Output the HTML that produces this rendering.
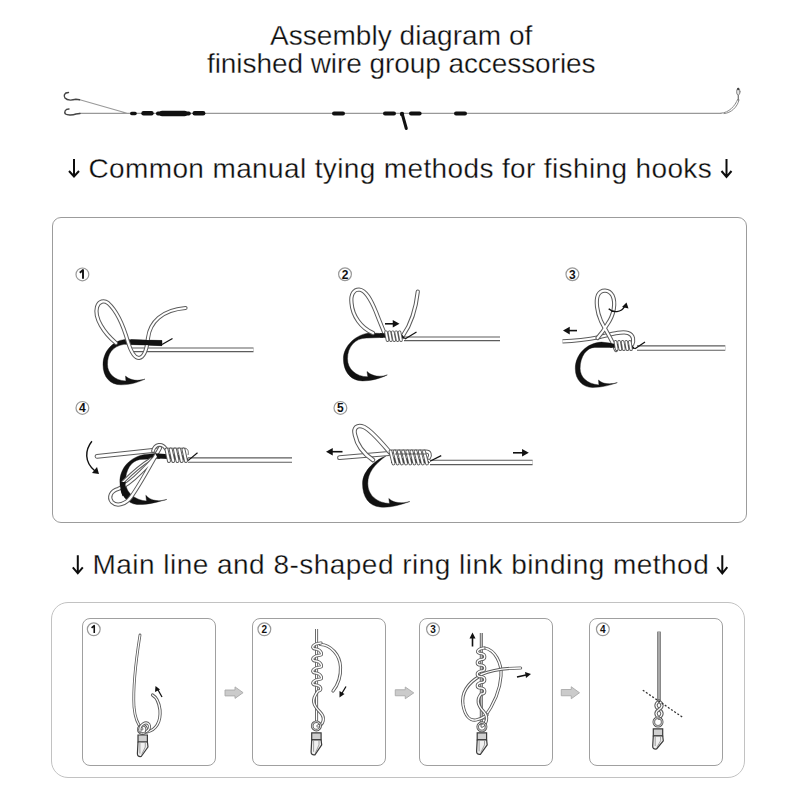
<!DOCTYPE html>
<html><head><meta charset="utf-8">
<style>
html,body{margin:0;padding:0;background:#fff;width:800px;height:800px;overflow:hidden;}
body{position:relative;font-family:"Liberation Sans",sans-serif;color:#0d0d0d;}
.t{position:absolute;white-space:nowrap;line-height:1;font-size:28px;-webkit-text-stroke:0.3px #fff;}
.box{position:absolute;box-sizing:border-box;}
svg{position:absolute;left:0;top:0;}
</style></head><body>
<div class="t" style="left:270px;top:22px;letter-spacing:0.05px;">Assembly diagram of</div>
<div class="t" style="left:207px;top:50px;letter-spacing:-0.07px;">finished wire group accessories</div>
<div class="t" style="left:88.5px;top:155px;letter-spacing:0.37px;">Common manual tying methods for fishing hooks</div>
<div class="t" style="left:92.5px;top:551px;letter-spacing:0.47px;">Main line and 8-shaped ring link binding method</div>
<div class="box" style="left:52px;top:217px;width:695px;height:306px;border:1.5px solid #9c9c9c;border-radius:9px;"></div>
<div class="box" style="left:51px;top:602px;width:694px;height:176px;border:1.5px solid #c2c2c2;border-radius:17px;"></div>
<div class="box" style="left:82px;top:618px;width:134px;height:148px;border:1.5px solid #a0a0a0;border-radius:8px;"></div>
<div class="box" style="left:252px;top:618px;width:134px;height:148px;border:1.5px solid #a0a0a0;border-radius:8px;"></div>
<div class="box" style="left:419px;top:618px;width:134px;height:148px;border:1.5px solid #a0a0a0;border-radius:8px;"></div>
<div class="box" style="left:589px;top:618px;width:134px;height:148px;border:1.5px solid #a0a0a0;border-radius:8px;"></div>
<svg width="800" height="800" viewBox="0 0 800 800">
<g fill="none" stroke-linecap="round">
<path d="M79 99.5L128 113.5M79.5 113.3H721" stroke="#999" stroke-width="1.2"/>
<path d="M721 113.2C729 112.8 735 106 737.6 99.5" stroke="#8a8a8a" stroke-width="1"/>
<path d="M724 113.6C731 113.2 737.5 107 739 100" stroke="#8a8a8a" stroke-width="1"/>
<path d="M738.3 100V95" stroke="#777" stroke-width="1.3"/>
<ellipse cx="738.3" cy="91.8" rx="1.7" ry="3.3" stroke="#888" stroke-width="1" fill="#e4e4e4"/>
<circle cx="738.2" cy="89" r="1.2" fill="#444" stroke="none"/>
<path d="M68.5 92.5C64 92.5 63.5 96 65 98C67 100.5 72 100.3 76 99.3L79.5 99.8" stroke="#444" stroke-width="1.4"/>
<path d="M69 109C65 109 64 112 65.5 114C67.5 115.5 73 115 76 114L80 113.5" stroke="#444" stroke-width="1.4"/>
</g>
<g fill="#111">
<rect x="130" y="111.8" width="6.8" height="3.4" rx="1.7"/>
<rect x="141.3" y="111" width="12.4" height="4.4" rx="2.2"/>
<rect x="156" y="111.6" width="34.8" height="3.8" rx="1.9"/>
<rect x="159.3" y="110.7" width="28" height="5.6" rx="2.8"/>
<rect x="192.5" y="111" width="12.9" height="4.4" rx="2.2"/>
<rect x="332" y="111.4" width="13" height="4" rx="2"/>
<rect x="383" y="111.4" width="13" height="4" rx="2"/>
<rect x="409" y="111.4" width="12.6" height="4" rx="2"/>
<rect x="454" y="111.4" width="13" height="4" rx="2"/>
<circle cx="402" cy="114" r="2.2"/>
</g>
<path d="M402.5 115L406.3 128.5" stroke="#111" stroke-width="3" stroke-linecap="round"/>
<g fill="none" stroke="#0d0d0d" stroke-width="2">
<path d="M74 159V176.5M69 171L74 176.5L79 171"/>
<path d="M726.5 159V177M721.5 171L726.5 177L731.5 171"/>
<path d="M77.8 555.3V573.3M72.8 567.3L77.8 573.3L82.8 567.3"/>
<path d="M722.3 555.3V573.5M717.3 567.2L722.3 573.5L727.3 567.2"/>
</g>
<circle cx="82.4" cy="274.4" r="6.4" fill="#fff" stroke="#999" stroke-width="1.2"/><path d="M79.80000000000001 272.79999999999995L83.0 270.08V278.71999999999997" fill="none" stroke="#111" stroke-width="1.8999999999999997" stroke-linejoin="round"/>
<circle cx="345" cy="274.25" r="6.4" fill="#fff" stroke="#999" stroke-width="1.2"/><text x="345" y="278.55" font-size="12" font-weight="bold" text-anchor="middle" fill="#111" font-family="Liberation Sans">2</text>
<circle cx="572.4" cy="274.25" r="6.4" fill="#fff" stroke="#999" stroke-width="1.2"/><text x="572.4" y="278.55" font-size="12" font-weight="bold" text-anchor="middle" fill="#111" font-family="Liberation Sans">3</text>
<circle cx="82.4" cy="407.9" r="6.4" fill="#fff" stroke="#999" stroke-width="1.2"/><text x="82.4" y="412.2" font-size="12" font-weight="bold" text-anchor="middle" fill="#111" font-family="Liberation Sans">4</text>
<circle cx="340.4" cy="407.9" r="6.4" fill="#fff" stroke="#999" stroke-width="1.2"/><text x="340.4" y="412.2" font-size="12" font-weight="bold" text-anchor="middle" fill="#111" font-family="Liberation Sans">5</text>
<path d="M132 349.8H253.5" fill="none" stroke="#5c5c5c" stroke-width="4.8" stroke-linecap="butt" stroke-linejoin="round"/><path d="M132 349.8H253.5" fill="none" stroke="#fff" stroke-width="2.4" stroke-linecap="butt" stroke-linejoin="round"/>
<path d="M162 340.5L124.8 339.4C112 341 103 352 103 364.5C103 377 110 384.8 121 384.8C131 384.8 139 382 145 379.1C139 381 131 381 125.5 376.1L125.9 381C114 380.5 107.5 373 107.5 364.5C107.5 354 112 346.5 124 344.3L162 345.7Z" fill="#111" stroke="#111" stroke-width="0.4" stroke-linejoin="round"/>
<path d="M172.5 338.5L162 344.5" stroke="#111" stroke-width="1.2" fill="none"/>
<path d="M116 343C104 333 94 318 97 307C99 301 104 300 108 303C117 311 124 328 128 342C131 352 135 358 139 358C145 357 147 348 148 338C150 322 162 310 185.5 308" fill="none" stroke="#5c5c5c" stroke-width="4.2" stroke-linecap="round" stroke-linejoin="round"/><path d="M116 343C104 333 94 318 97 307C99 301 104 300 108 303C117 311 124 328 128 342C131 352 135 358 139 358C145 357 147 348 148 338C150 322 162 310 185.5 308" fill="none" stroke="#fff" stroke-width="2.2" stroke-linecap="round" stroke-linejoin="round"/>
<path d="M131 339.6L162 340.5L162 345.7L131 344.5Z" fill="#111"/>
<path d="M404 338.8H500" fill="none" stroke="#5c5c5c" stroke-width="4.8" stroke-linecap="butt" stroke-linejoin="round"/><path d="M404 338.8H500" fill="none" stroke="#fff" stroke-width="2.4" stroke-linecap="butt" stroke-linejoin="round"/>
<path d="M383 333.6L370 332.9C356 334 343.4 346 343.4 358.75C343.4 372 351 380.9 362.5 380.9C372 380.9 381 378 387.3 374.9C381 377 373 377 367 371.5L367.8 376.8C356 376.8 347.5 369 347.5 358.75C347.5 347 355 338.1 366.3 338.1L383 337.4Z" fill="#111" stroke="#111" stroke-width="0.4" stroke-linejoin="round"/>
<path d="M373 333C361 328 352.5 316 351.5 303C350.5 294 354 289.5 359 289.5C366 290 371 300 376 312C379 320 382 327 384 332" fill="none" stroke="#5c5c5c" stroke-width="4.2" stroke-linecap="round" stroke-linejoin="round"/><path d="M373 333C361 328 352.5 316 351.5 303C350.5 294 354 289.5 359 289.5C366 290 371 300 376 312C379 320 382 327 384 332" fill="none" stroke="#fff" stroke-width="2.2" stroke-linecap="round" stroke-linejoin="round"/>
<path d="M403 335.5C409 327 415.5 312 417.8 291.5" fill="none" stroke="#5c5c5c" stroke-width="4.2" stroke-linecap="round" stroke-linejoin="round"/><path d="M403 335.5C409 327 415.5 312 417.8 291.5" fill="none" stroke="#fff" stroke-width="2.2" stroke-linecap="round" stroke-linejoin="round"/>
<path d="M380 333.2L402 334.5L405.5 338.8L380 337.6Z" fill="#111"/><path d="M386.00 332.2L387.50 340.2" fill="none" stroke="#5c5c5c" stroke-width="3.6" stroke-linecap="round" stroke-linejoin="round"/><path d="M386.00 332.2L387.50 340.2" fill="none" stroke="#fff" stroke-width="1.8" stroke-linecap="round" stroke-linejoin="round"/><path d="M389.38 332.2L390.88 340.2" fill="none" stroke="#5c5c5c" stroke-width="3.6" stroke-linecap="round" stroke-linejoin="round"/><path d="M389.38 332.2L390.88 340.2" fill="none" stroke="#fff" stroke-width="1.8" stroke-linecap="round" stroke-linejoin="round"/><path d="M392.75 332.2L394.25 340.2" fill="none" stroke="#5c5c5c" stroke-width="3.6" stroke-linecap="round" stroke-linejoin="round"/><path d="M392.75 332.2L394.25 340.2" fill="none" stroke="#fff" stroke-width="1.8" stroke-linecap="round" stroke-linejoin="round"/><path d="M396.12 332.2L397.62 340.2" fill="none" stroke="#5c5c5c" stroke-width="3.6" stroke-linecap="round" stroke-linejoin="round"/><path d="M396.12 332.2L397.62 340.2" fill="none" stroke="#fff" stroke-width="1.8" stroke-linecap="round" stroke-linejoin="round"/><path d="M399.50 332.2L401.00 340.2" fill="none" stroke="#5c5c5c" stroke-width="3.6" stroke-linecap="round" stroke-linejoin="round"/><path d="M399.50 332.2L401.00 340.2" fill="none" stroke="#fff" stroke-width="1.8" stroke-linecap="round" stroke-linejoin="round"/>
<path d="M416.5 332L405 339" stroke="#111" stroke-width="1.2" fill="none"/>
<path d="M385 323.8H395.3" stroke="#111" stroke-width="1.6" fill="none"/><path d="M399.5 323.8L392.78 320.02000000000004L392.78 327.58Z" fill="#111"/>
<path d="M637 348.1H725.3" fill="none" stroke="#5c5c5c" stroke-width="5.5" stroke-linecap="butt" stroke-linejoin="round"/><path d="M637 348.1H725.3" fill="none" stroke="#fff" stroke-width="3.1" stroke-linecap="butt" stroke-linejoin="round"/>
<path d="M612 343.3L601.5 342.1C587 343 575.3 354 575.3 368.8C575.3 380 583 387.5 592.5 387.5C602 387.5 611 385 617.3 382.6C611 384.5 603 384.5 598.5 380L598.9 384.9C587 384 580.1 377 580.1 368.5C580.1 356 587 347.4 594.8 347.4L612 347.5Z" fill="#111" stroke="#111" stroke-width="0.4" stroke-linejoin="round"/>
<path d="M562.5 341.3C575 341 590 339 600 337C612 334 622 331 628 333C634 335 634 341 632 345" fill="none" stroke="#5c5c5c" stroke-width="4.2" stroke-linecap="butt" stroke-linejoin="round"/><path d="M562.5 341.3C575 341 590 339 600 337C612 334 622 331 628 333C634 335 634 341 632 345" fill="none" stroke="#fff" stroke-width="2.2" stroke-linecap="butt" stroke-linejoin="round"/>
<path d="M616 350C612 340 606 331 601 321C597 312 595.5 301 598 295C601 289 609 289 612.5 295.5C616 303 614 315 607.5 324C604 330 601 334 597.5 338" fill="none" stroke="#5c5c5c" stroke-width="4.2" stroke-linecap="round" stroke-linejoin="round"/><path d="M616 350C612 340 606 331 601 321C597 312 595.5 301 598 295C601 289 609 289 612.5 295.5C616 303 614 315 607.5 324C604 330 601 334 597.5 338" fill="none" stroke="#fff" stroke-width="2.2" stroke-linecap="round" stroke-linejoin="round"/>
<path d="M610 343.3L632 345L635.5 349L610 347.5Z" fill="#111"/><path d="M615.50 341.8L616.70 349.2" fill="none" stroke="#5c5c5c" stroke-width="3.6" stroke-linecap="round" stroke-linejoin="round"/><path d="M615.50 341.8L616.70 349.2" fill="none" stroke="#fff" stroke-width="1.8" stroke-linecap="round" stroke-linejoin="round"/><path d="M619.08 341.8L620.28 349.2" fill="none" stroke="#5c5c5c" stroke-width="3.6" stroke-linecap="round" stroke-linejoin="round"/><path d="M619.08 341.8L620.28 349.2" fill="none" stroke="#fff" stroke-width="1.8" stroke-linecap="round" stroke-linejoin="round"/><path d="M622.65 341.8L623.85 349.2" fill="none" stroke="#5c5c5c" stroke-width="3.6" stroke-linecap="round" stroke-linejoin="round"/><path d="M622.65 341.8L623.85 349.2" fill="none" stroke="#fff" stroke-width="1.8" stroke-linecap="round" stroke-linejoin="round"/><path d="M626.23 341.8L627.43 349.2" fill="none" stroke="#5c5c5c" stroke-width="3.6" stroke-linecap="round" stroke-linejoin="round"/><path d="M626.23 341.8L627.43 349.2" fill="none" stroke="#fff" stroke-width="1.8" stroke-linecap="round" stroke-linejoin="round"/><path d="M629.80 341.8L631.00 349.2" fill="none" stroke="#5c5c5c" stroke-width="3.6" stroke-linecap="round" stroke-linejoin="round"/><path d="M629.80 341.8L631.00 349.2" fill="none" stroke="#fff" stroke-width="1.8" stroke-linecap="round" stroke-linejoin="round"/>
<path d="M645 341.9L635 348.7" stroke="#111" stroke-width="1.2" fill="none"/>
<path d="M577 330.6H567.2" stroke="#111" stroke-width="1.6" fill="none"/><path d="M563 330.6L569.72 326.82000000000005L569.72 334.38Z" fill="#111"/>
<path d="M608.7 308.7C613 313 621 313 625 306" stroke="#111" stroke-width="1.4" fill="none"/>
<path d="M626.5 302.5L622 307L628.5 308.5Z" fill="#111"/>
<path d="M188 460.1H292" fill="none" stroke="#5c5c5c" stroke-width="5.5" stroke-linecap="butt" stroke-linejoin="round"/><path d="M188 460.1H292" fill="none" stroke="#fff" stroke-width="3.1" stroke-linecap="butt" stroke-linejoin="round"/>
<path d="M157 453.3L145 454.4C130 457 119.9 468 119.9 481.8C119.9 495 127 503.5 137 504.5C147 505 158 502 166.8 499.4C160 501.5 151 501.5 145.8 495.3L146.5 501C137 500.5 125.5 494 125.5 481.8C125.5 470 131 461 140 459.5L160 458.5Z" fill="#111" stroke="#111" stroke-width="0.4" stroke-linejoin="round"/>
<path d="M97 456.3L157.5 450" fill="none" stroke="#5c5c5c" stroke-width="4.8" stroke-linecap="round" stroke-linejoin="round"/><path d="M97 456.3L157.5 450" fill="none" stroke="#fff" stroke-width="2.8" stroke-linecap="round" stroke-linejoin="round"/>
<path d="M123 482C131 474 141 465 151 459" fill="none" stroke="#5c5c5c" stroke-width="3.3" stroke-linecap="round" stroke-linejoin="round"/><path d="M123 482C131 474 141 465 151 459" fill="none" stroke="#fff" stroke-width="1.3" stroke-linecap="round" stroke-linejoin="round"/>
<path d="M160 448C152 462 141 483 131 497C126 504 117 507 112 502C108 497 111 491 118 489C126 486 134 479 141 472C147 466 152 461 156 456" fill="none" stroke="#5c5c5c" stroke-width="4.2" stroke-linecap="round" stroke-linejoin="round"/><path d="M160 448C152 462 141 483 131 497C126 504 117 507 112 502C108 497 111 491 118 489C126 486 134 479 141 472C147 466 152 461 156 456" fill="none" stroke="#fff" stroke-width="2.2" stroke-linecap="round" stroke-linejoin="round"/>
<path d="M122.7 482C122.7 488 123.5 492 125 495" stroke="#111" stroke-width="5.4" fill="none"/>
<path d="M153 451C155 444 162 442.5 166 449" fill="none" stroke="#5c5c5c" stroke-width="3.8" stroke-linecap="round" stroke-linejoin="round"/><path d="M153 451C155 444 162 442.5 166 449" fill="none" stroke="#fff" stroke-width="1.8" stroke-linecap="round" stroke-linejoin="round"/>
<path d="M166 448.2H185C188 448.5 189 452 188 455" fill="none" stroke="#666" stroke-width="1"/>
<path d="M155 453.3L186 455.5L188.5 460L158 458.5Z" fill="#111"/><path d="M166.50 449.5L169.00 461" fill="none" stroke="#5c5c5c" stroke-width="4" stroke-linecap="round" stroke-linejoin="round"/><path d="M166.50 449.5L169.00 461" fill="none" stroke="#fff" stroke-width="2" stroke-linecap="round" stroke-linejoin="round"/><path d="M170.75 449.5L173.25 461" fill="none" stroke="#5c5c5c" stroke-width="4" stroke-linecap="round" stroke-linejoin="round"/><path d="M170.75 449.5L173.25 461" fill="none" stroke="#fff" stroke-width="2" stroke-linecap="round" stroke-linejoin="round"/><path d="M175.00 449.5L177.50 461" fill="none" stroke="#5c5c5c" stroke-width="4" stroke-linecap="round" stroke-linejoin="round"/><path d="M175.00 449.5L177.50 461" fill="none" stroke="#fff" stroke-width="2" stroke-linecap="round" stroke-linejoin="round"/><path d="M179.25 449.5L181.75 461" fill="none" stroke="#5c5c5c" stroke-width="4" stroke-linecap="round" stroke-linejoin="round"/><path d="M179.25 449.5L181.75 461" fill="none" stroke="#fff" stroke-width="2" stroke-linecap="round" stroke-linejoin="round"/><path d="M183.50 449.5L186.00 461" fill="none" stroke="#5c5c5c" stroke-width="4" stroke-linecap="round" stroke-linejoin="round"/><path d="M183.50 449.5L186.00 461" fill="none" stroke="#fff" stroke-width="2" stroke-linecap="round" stroke-linejoin="round"/>
<path d="M197.5 452.8L188 460.6" stroke="#111" stroke-width="1.2" fill="none"/>
<path d="M91.9 441.3C85 450 84 462 95 471" stroke="#111" stroke-width="1.4" fill="none"/>
<path d="M99 474L92 473L97 467Z" fill="#111"/>
<path d="M430 462.4H532.6" fill="none" stroke="#5c5c5c" stroke-width="5.5" stroke-linecap="butt" stroke-linejoin="round"/><path d="M430 462.4H532.6" fill="none" stroke="#fff" stroke-width="3.1" stroke-linecap="butt" stroke-linejoin="round"/>
<path d="M385.8 456.1C377 459 362.5 470 362.5 483.5C362.5 497 369 506 380 507C390 508 400 505 409.8 501.5C403 503.5 394 503.5 388.8 498.5L389.5 503.5C378 503 367.8 496 367.8 483.5C367.8 473 374 465 385.8 456.1Z" fill="#111" stroke="#111" stroke-width="0.4" stroke-linejoin="round"/>
<path d="M339.5 457.7L389 453.5" fill="none" stroke="#5c5c5c" stroke-width="4.8" stroke-linecap="round" stroke-linejoin="round"/><path d="M339.5 457.7L389 453.5" fill="none" stroke="#fff" stroke-width="2.8" stroke-linecap="round" stroke-linejoin="round"/>
<path d="M390 452.5C380 441 372 431 364 427C357 424 353 428 355 435C357 445 364 454 373 460" fill="none" stroke="#5c5c5c" stroke-width="4.6" stroke-linecap="round" stroke-linejoin="round"/><path d="M390 452.5C380 441 372 431 364 427C357 424 353 428 355 435C357 445 364 454 373 460" fill="none" stroke="#fff" stroke-width="2.6" stroke-linecap="round" stroke-linejoin="round"/>
<path d="M392 451.5H426C430 451.5 431 455 429 458" fill="none" stroke="#5c5c5c" stroke-width="3.8" stroke-linecap="round" stroke-linejoin="round"/><path d="M392 451.5H426C430 451.5 431 455 429 458" fill="none" stroke="#fff" stroke-width="1.8" stroke-linecap="round" stroke-linejoin="round"/>
<path d="M391 457.5L427 459.5L430 463L391 463Z" fill="#111"/><path d="M390.50 451.5L393.50 463.5" fill="none" stroke="#5c5c5c" stroke-width="3.8" stroke-linecap="round" stroke-linejoin="round"/><path d="M390.50 451.5L393.50 463.5" fill="none" stroke="#fff" stroke-width="1.9" stroke-linecap="round" stroke-linejoin="round"/><path d="M394.69 451.5L397.69 463.5" fill="none" stroke="#5c5c5c" stroke-width="3.8" stroke-linecap="round" stroke-linejoin="round"/><path d="M394.69 451.5L397.69 463.5" fill="none" stroke="#fff" stroke-width="1.9" stroke-linecap="round" stroke-linejoin="round"/><path d="M398.88 451.5L401.88 463.5" fill="none" stroke="#5c5c5c" stroke-width="3.8" stroke-linecap="round" stroke-linejoin="round"/><path d="M398.88 451.5L401.88 463.5" fill="none" stroke="#fff" stroke-width="1.9" stroke-linecap="round" stroke-linejoin="round"/><path d="M403.06 451.5L406.06 463.5" fill="none" stroke="#5c5c5c" stroke-width="3.8" stroke-linecap="round" stroke-linejoin="round"/><path d="M403.06 451.5L406.06 463.5" fill="none" stroke="#fff" stroke-width="1.9" stroke-linecap="round" stroke-linejoin="round"/><path d="M407.25 451.5L410.25 463.5" fill="none" stroke="#5c5c5c" stroke-width="3.8" stroke-linecap="round" stroke-linejoin="round"/><path d="M407.25 451.5L410.25 463.5" fill="none" stroke="#fff" stroke-width="1.9" stroke-linecap="round" stroke-linejoin="round"/><path d="M411.44 451.5L414.44 463.5" fill="none" stroke="#5c5c5c" stroke-width="3.8" stroke-linecap="round" stroke-linejoin="round"/><path d="M411.44 451.5L414.44 463.5" fill="none" stroke="#fff" stroke-width="1.9" stroke-linecap="round" stroke-linejoin="round"/><path d="M415.62 451.5L418.62 463.5" fill="none" stroke="#5c5c5c" stroke-width="3.8" stroke-linecap="round" stroke-linejoin="round"/><path d="M415.62 451.5L418.62 463.5" fill="none" stroke="#fff" stroke-width="1.9" stroke-linecap="round" stroke-linejoin="round"/><path d="M419.81 451.5L422.81 463.5" fill="none" stroke="#5c5c5c" stroke-width="3.8" stroke-linecap="round" stroke-linejoin="round"/><path d="M419.81 451.5L422.81 463.5" fill="none" stroke="#fff" stroke-width="1.9" stroke-linecap="round" stroke-linejoin="round"/><path d="M424.00 451.5L427.00 463.5" fill="none" stroke="#5c5c5c" stroke-width="3.8" stroke-linecap="round" stroke-linejoin="round"/><path d="M424.00 451.5L427.00 463.5" fill="none" stroke="#fff" stroke-width="1.9" stroke-linecap="round" stroke-linejoin="round"/>
<path d="M395 454H426" stroke="#444" stroke-width="0.8"/>
<path d="M441.2 455.6L430 461.3" stroke="#111" stroke-width="1.2" fill="none"/>
<path d="M342.5 451.7H330.2" stroke="#111" stroke-width="1.6" fill="none"/><path d="M326 451.7L332.72 447.92L332.72 455.47999999999996Z" fill="#111"/>
<path d="M513 452.8H524.5999999999999" stroke="#111" stroke-width="1.6" fill="none"/><path d="M528.8 452.8L522.0799999999999 449.02000000000004L522.0799999999999 456.58Z" fill="#111"/>
<path d="M225 690H235V686.9L243.1 692.65L235 698.4V695.9H225Z" fill="#cbcbcb" stroke="#a9a9a9" stroke-width="0.9" stroke-linejoin="miter"/>
<path d="M395.25 689.75H405.25V687L413.75 692.875L405.25 698.75V695.75H395.25Z" fill="#cbcbcb" stroke="#a9a9a9" stroke-width="0.9" stroke-linejoin="miter"/>
<path d="M561.25 689.5H571.25V686.75L579.5 692.75L571.25 698.75V695.75H561.25Z" fill="#cbcbcb" stroke="#a9a9a9" stroke-width="0.9" stroke-linejoin="miter"/>
<circle cx="93.75" cy="629.3" r="6.4" fill="#fff" stroke="#999" stroke-width="1.2"/><path d="M91.58333333333333 627.9666666666666L94.25 625.6999999999999V632.9" fill="none" stroke="#111" stroke-width="1.5833333333333333" stroke-linejoin="round"/>
<circle cx="264.35" cy="629.3" r="6.4" fill="#fff" stroke="#999" stroke-width="1.2"/><text x="264.35" y="632.9" font-size="10" font-weight="bold" text-anchor="middle" fill="#111" font-family="Liberation Sans">2</text>
<circle cx="433" cy="629.3" r="6.4" fill="#fff" stroke="#999" stroke-width="1.2"/><text x="433" y="632.9" font-size="10" font-weight="bold" text-anchor="middle" fill="#111" font-family="Liberation Sans">3</text>
<circle cx="602.85" cy="629.3" r="6.4" fill="#fff" stroke="#999" stroke-width="1.2"/><text x="602.85" y="632.9" font-size="10" font-weight="bold" text-anchor="middle" fill="#111" font-family="Liberation Sans">4</text>
<path d="M140 635C136 660 133 690 134 707C135 718 138 725 142 729" fill="none" stroke="#5c5c5c" stroke-width="2.8" stroke-linecap="round" stroke-linejoin="round"/><path d="M140 635C136 660 133 690 134 707C135 718 138 725 142 729" fill="none" stroke="#fff" stroke-width="1.2" stroke-linecap="round" stroke-linejoin="round"/>
<path d="M147 732C156 730 161 722 160 710C159 702 156 697 152.5 695" fill="none" stroke="#5c5c5c" stroke-width="3.2" stroke-linecap="round" stroke-linejoin="round"/><path d="M147 732C156 730 161 722 160 710C159 702 156 697 152.5 695" fill="none" stroke="#fff" stroke-width="1.4" stroke-linecap="round" stroke-linejoin="round"/>
<circle cx="142.5" cy="729.4" r="4.2" fill="none" stroke="#555" stroke-width="2.6"/><circle cx="142.5" cy="729.4" r="4.2" fill="none" stroke="#e8e8e8" stroke-width="0.9"/><path d="M138.0 735H147.39999999999998V742H138.0Z" fill="#d0d0d0" stroke="#3a3a3a" stroke-width="1.2"/><path d="M138.0 742H147.39999999999998L148.0 747L141.2 756.5Q137.2 757.0 137.39999999999998 753.5Z" fill="#f0f0f0" stroke="#3a3a3a" stroke-width="1.2" stroke-linejoin="round"/><path d="M139.89999999999998 743V753.5M145.29999999999998 743V747L141.7 754.5" fill="none" stroke="#888" stroke-width="0.8"/>
<path d="M140 731C139 725 146 720.5 149 724.5C150.5 727 149 730 146.5 731.5" fill="none" stroke="#5c5c5c" stroke-width="3" stroke-linecap="round" stroke-linejoin="round"/><path d="M140 731C139 725 146 720.5 149 724.5C150.5 727 149 730 146.5 731.5" fill="none" stroke="#fff" stroke-width="1.3" stroke-linecap="round" stroke-linejoin="round"/>
<path d="M162 697L157.5 689" stroke="#111" stroke-width="1.3"/>
<path d="M155.5 686L155 692L160 689.5Z" fill="#111"/>
<path d="M316.6 629V723" fill="none" stroke="#5c5c5c" stroke-width="3" stroke-linecap="butt" stroke-linejoin="round"/><path d="M316.6 629V723" fill="none" stroke="#fff" stroke-width="1.2" stroke-linecap="butt" stroke-linejoin="round"/>
<path d="M320.5 644.5C331 645 340 655 340.5 667C341 678 337 686 333 691" fill="none" stroke="#5c5c5c" stroke-width="3.2" stroke-linecap="round" stroke-linejoin="round"/><path d="M320.5 644.5C331 645 340 655 340.5 667C341 678 337 686 333 691" fill="none" stroke="#fff" stroke-width="1.4" stroke-linecap="round" stroke-linejoin="round"/>
<path d="M321 643C311 644 311 649 316 649C322 650 322 655 321 655C311 656 311 661 316 661C322 662 322 667 321 667C311 668 311 673 316 673C322 674 322 679 321 679C311 680 311 685 316 685C322 686 322 691 318 691C311 700 313 705 320 712C326 718 323 725 318 726" fill="none" stroke="#5c5c5c" stroke-width="3.2" stroke-linecap="round" stroke-linejoin="round"/><path d="M321 643C311 644 311 649 316 649C322 650 322 655 321 655C311 656 311 661 316 661C322 662 322 667 321 667C311 668 311 673 316 673C322 674 322 679 321 679C311 680 311 685 316 685C322 686 322 691 318 691C311 700 313 705 320 712C326 718 323 725 318 726" fill="none" stroke="#fff" stroke-width="1.4" stroke-linecap="round" stroke-linejoin="round"/>
<circle cx="316.4" cy="725.9" r="4.2" fill="none" stroke="#555" stroke-width="2.6"/><circle cx="316.4" cy="725.9" r="4.2" fill="none" stroke="#e8e8e8" stroke-width="0.9"/><path d="M311.7 732.9H321.09999999999997V739.9H311.7Z" fill="#d0d0d0" stroke="#3a3a3a" stroke-width="1.2"/><path d="M311.7 739.9H321.09999999999997L321.7 744.9L314.9 754.8Q310.9 755.3 311.09999999999997 751.8Z" fill="#f0f0f0" stroke="#3a3a3a" stroke-width="1.2" stroke-linejoin="round"/><path d="M313.59999999999997 740.9V751.8M319.0 740.9V744.9L315.4 752.8" fill="none" stroke="#888" stroke-width="0.8"/>
<path d="M346 686.5L341.5 694" stroke="#111" stroke-width="1.3"/>
<path d="M339.5 697.5L339.5 691L344.5 694Z" fill="#111"/>
<path d="M481.3 633V725" fill="none" stroke="#5c5c5c" stroke-width="3" stroke-linecap="butt" stroke-linejoin="round"/><path d="M481.3 633V725" fill="none" stroke="#c4c4c4" stroke-width="1.3" stroke-linecap="butt" stroke-linejoin="round"/>
<path d="M484.7 648C495 650 502 663 501 676C500 692 492 707 484 718" fill="none" stroke="#5c5c5c" stroke-width="3.2" stroke-linecap="round" stroke-linejoin="round"/><path d="M484.7 648C495 650 502 663 501 676C500 692 492 707 484 718" fill="none" stroke="#fff" stroke-width="1.4" stroke-linecap="round" stroke-linejoin="round"/>
<path d="M480 676C468 683 461 692 463 705C465 716 470 721 476 720C482 719 485 716 487 715" fill="none" stroke="#5c5c5c" stroke-width="3.2" stroke-linecap="round" stroke-linejoin="round"/><path d="M480 676C468 683 461 692 463 705C465 716 470 721 476 720C482 719 485 716 487 715" fill="none" stroke="#fff" stroke-width="1.4" stroke-linecap="round" stroke-linejoin="round"/>
<path d="M484 648C476 649.0 476 653.5 481 653.5C486 654.0 486 659.5 481 659.5C476 660.5 476 665.0 481 665.0C486 665.5 486 671.0 481 671.0C476 672.0 476 676.5 481 676.5C486 677.0 486 682.5 481 682.5C476 683.5 476 688.0 481 688.0C486 688.5 486 694.0 481 694.0C476 700 478 706 484 712C489 718 486 724 482 726" fill="none" stroke="#5c5c5c" stroke-width="3.2" stroke-linecap="round" stroke-linejoin="round"/><path d="M484 648C476 649.0 476 653.5 481 653.5C486 654.0 486 659.5 481 659.5C476 660.5 476 665.0 481 665.0C486 665.5 486 671.0 481 671.0C476 672.0 476 676.5 481 676.5C486 677.0 486 682.5 481 682.5C476 683.5 476 688.0 481 688.0C486 688.5 486 694.0 481 694.0C476 700 478 706 484 712C489 718 486 724 482 726" fill="none" stroke="#fff" stroke-width="1.4" stroke-linecap="round" stroke-linejoin="round"/>
<path d="M481 674.5C492 670 505 668 520.6 668" fill="none" stroke="#5c5c5c" stroke-width="3.2" stroke-linecap="round" stroke-linejoin="round"/><path d="M481 674.5C492 670 505 668 520.6 668" fill="none" stroke="#fff" stroke-width="1.4" stroke-linecap="round" stroke-linejoin="round"/>
<circle cx="481.9" cy="726.8" r="4.2" fill="none" stroke="#555" stroke-width="2.6"/><circle cx="481.9" cy="726.8" r="4.2" fill="none" stroke="#e8e8e8" stroke-width="0.9"/><path d="M477.2 732.9H486.59999999999997V739.9H477.2Z" fill="#d0d0d0" stroke="#3a3a3a" stroke-width="1.2"/><path d="M477.2 739.9H486.59999999999997L487.2 744.9L480.4 754.3Q476.4 754.8 476.59999999999997 751.3Z" fill="#f0f0f0" stroke="#3a3a3a" stroke-width="1.2" stroke-linejoin="round"/><path d="M479.09999999999997 740.9V751.3M484.5 740.9V744.9L480.9 752.3" fill="none" stroke="#888" stroke-width="0.8"/>
<path d="M472.5 646.5V637" stroke="#111" stroke-width="1.6"/>
<path d="M472.5 632.5L469.5 638.5H475.5Z" fill="#111"/>
<path d="M517 677L526 675" stroke="#111" stroke-width="1.5"/>
<path d="M531 674L525 672L526 678Z" fill="#111"/>
<path d="M659 631.6V702" fill="none" stroke="#6a6a6a" stroke-width="3.6" stroke-linecap="butt" stroke-linejoin="round"/><path d="M659 631.6V702" fill="none" stroke="#b8b8b8" stroke-width="1.6" stroke-linecap="butt" stroke-linejoin="round"/>
<path d="M659 701C655 704 655 707 659 709.5C663 712 663 715 659 718" fill="none" stroke="#666" stroke-width="3.4" stroke-linecap="round" stroke-linejoin="round"/><path d="M659 701C655 704 655 707 659 709.5C663 712 663 715 659 718" fill="none" stroke="#fff" stroke-width="1.3" stroke-linecap="round" stroke-linejoin="round"/>
<path d="M659 701C663 704 663 707 659 709.5C655 712 655 715 659 718" fill="none" stroke="#666" stroke-width="3.4" stroke-linecap="round" stroke-linejoin="round"/><path d="M659 701C663 704 663 707 659 709.5C655 712 655 715 659 718" fill="none" stroke="#fff" stroke-width="1.3" stroke-linecap="round" stroke-linejoin="round"/>
<circle cx="658" cy="722" r="4.2" fill="none" stroke="#555" stroke-width="2.6"/><circle cx="658" cy="722" r="4.2" fill="none" stroke="#e8e8e8" stroke-width="0.9"/><path d="M653.3 728.8H662.7V735.8H653.3Z" fill="#d0d0d0" stroke="#3a3a3a" stroke-width="1.2"/><path d="M653.3 735.8H662.7L663.3 740.8L656.5 749Q652.5 749.5 652.7 746Z" fill="#f0f0f0" stroke="#3a3a3a" stroke-width="1.2" stroke-linejoin="round"/><path d="M655.2 736.8V746M660.6 736.8V740.8L657 747" fill="none" stroke="#888" stroke-width="0.8"/>
<path d="M642.8 690.2L683.4 717.8" stroke="#333" stroke-width="1.3" stroke-dasharray="2 1.8"/>
</svg>
</body></html>
